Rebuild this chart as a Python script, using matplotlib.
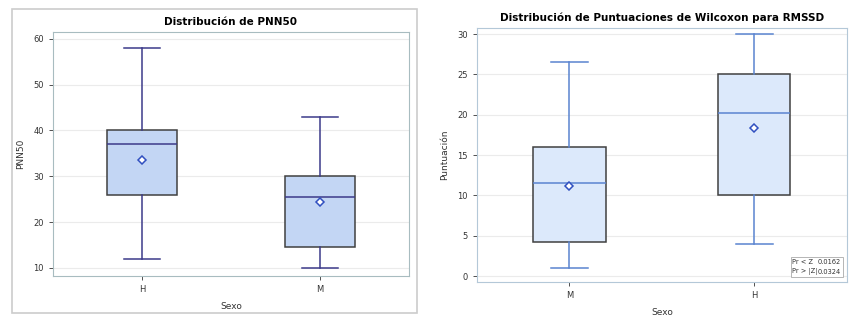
import matplotlib.pyplot as plt
from matplotlib.patches import Rectangle

# PNN50 por sexo
pnn_groups = ['H', 'M']
pnn_whislo = [12, 10]
pnn_q1 = [26, 14.5]
pnn_med = [37, 25.5]
pnn_q3 = [40, 30]
pnn_whishi = [58, 43]
pnn_mean = [33.6, 24.3]

# Puntuaciones de Wilcoxon para RMSSD
wil_groups = ['M', 'H']
wil_whislo = [1, 4]
wil_q1 = [4.2, 10]
wil_med = [11.5, 20.2]
wil_q3 = [16, 25]
wil_whishi = [26.5, 30]
wil_mean = [11.2, 18.3]

pr_labels = ['Pr < Z', 'Pr > |Z|']
pr_values = ['0.0162', '0.0324']


def stats(groups, lo, q1, med, q3, hi, mean):
    out = []
    for i in range(len(groups)):
        out.append({'label': groups[i], 'whislo': lo[i], 'q1': q1[i], 'med': med[i],
                    'q3': q3[i], 'whishi': hi[i], 'mean': mean[i], 'fliers': []})
    return out


def draw(ax, st, fill, line, spine):
    ax.bxp(st, widths=0.39, showmeans=True, patch_artist=True, showfliers=False,
           boxprops=dict(facecolor=fill, edgecolor='#404040', linewidth=1.1),
           whiskerprops=dict(color=line, linewidth=1.1),
           capprops=dict(color=line, linewidth=1.1),
           medianprops=dict(color=line, linewidth=1.1),
           meanprops=dict(marker='D', markerfacecolor='white', markeredgecolor='#3050c0',
                          markersize=4, markeredgewidth=1.1),
           capwidths=0.2)
    ax.set_xlim(0.5, 2.5)
    ax.yaxis.grid(True, color='#ebebeb', linewidth=0.8)
    ax.set_axisbelow(True)
    for s in ax.spines.values():
        s.set_color(spine)
    ax.tick_params(labelsize=6, colors='#333333', length=3, width=0.6)
    ax.set_xlabel('Sexo', fontsize=6.5, color='#333333', labelpad=6)


fig = plt.figure(figsize=(8.6, 3.22), dpi=100)

# marco gris del panel izquierdo
fig.patches.append(Rectangle((0.014, 0.028), 0.471, 0.944, transform=fig.transFigure,
                             fill=False, edgecolor='#cccccc', linewidth=1.2))

ax1 = fig.add_axes([0.0616, 0.143, 0.414, 0.758])
draw(ax1, stats(pnn_groups, pnn_whislo, pnn_q1, pnn_med, pnn_q3, pnn_whishi, pnn_mean),
     '#c3d6f4', '#3c3a8a', '#a8bcc0')
ax1.set_ylim(8.25, 61.5)
ax1.set_yticks([10, 20, 30, 40, 50, 60])
ax1.set_ylabel('PNN50', fontsize=6.5, color='#333333', labelpad=6)
ax1.set_title('Distribución de PNN50', fontsize=7.5, fontweight='bold', pad=5)

ax2 = fig.add_axes([0.5547, 0.124, 0.430, 0.789])
draw(ax2, stats(wil_groups, wil_whislo, wil_q1, wil_med, wil_q3, wil_whishi, wil_mean),
     '#dce9fb', '#5a84d0', '#b4c8d8')
ax2.set_ylim(-0.75, 30.75)
ax2.set_yticks([0, 5, 10, 15, 20, 25, 30])
ax2.set_ylabel('Puntuación', fontsize=6.5, color='#333333', labelpad=6)
ax2.set_title('Distribución de Puntuaciones de Wilcoxon para RMSSD', fontsize=7.5,
              fontweight='bold', pad=5)

# cuadro con p-valores
ax2.add_patch(Rectangle((0.848, 0.02), 0.142, 0.08, transform=ax2.transAxes,
                        facecolor='white', edgecolor='#aaaaaa', linewidth=0.6, zorder=5))
for i in range(len(pr_labels)):
    yy = 0.08 - i * 0.04
    ax2.text(0.853, yy, pr_labels[i], transform=ax2.transAxes, fontsize=4.8,
             va='center', zorder=6, color='#333333')
    ax2.text(0.985, yy, pr_values[i], transform=ax2.transAxes, fontsize=4.8,
             va='center', ha='right', zorder=6, color='#333333')

fig.savefig('out.png', dpi=100)
